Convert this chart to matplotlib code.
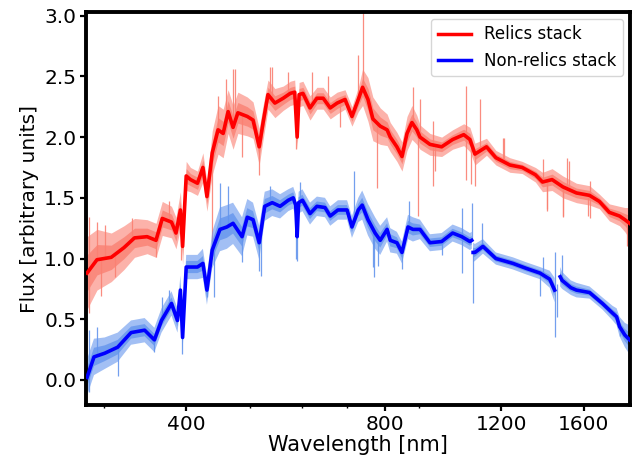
import numpy as np
import matplotlib
matplotlib.use("Agg")
import matplotlib.pyplot as plt
from matplotlib.ticker import ScalarFormatter, NullFormatter

# relics stack: wavelength [nm], smoothed flux, half-width of the noisy spectrum
red_wl = [283, 293, 308, 322, 334, 349, 360, 368, 380, 386,
          392, 395, 400, 406, 416, 424, 430, 438, 447, 455,
          463, 471, 479, 495, 505, 516, 523, 532, 545, 561,
          575, 584, 589, 593, 601, 616, 631, 645, 661, 677,
          696, 713, 729, 740, 754, 767, 787, 806, 815, 834,
          849, 864, 879, 894, 904, 936, 975, 1013, 1053, 1076,
          1095, 1140, 1178, 1237, 1291, 1352, 1386, 1433, 1488, 1560,
          1633, 1690, 1750, 1813, 1847, 1878]
red_flux = [0.88, 0.99, 1.01, 1.09, 1.17, 1.18, 1.15, 1.33, 1.30, 1.21,
            1.40, 1.10, 1.68, 1.65, 1.62, 1.75, 1.51, 1.87, 2.06, 2.03,
            2.21, 2.08, 2.20, 2.17, 2.14, 1.92, 2.12, 2.35, 2.28, 2.32,
            2.36, 2.37, 2.00, 2.35, 2.36, 2.24, 2.32, 2.32, 2.24, 2.28,
            2.31, 2.17, 2.31, 2.41, 2.31, 2.15, 2.09, 2.06, 2.00, 1.92,
            1.84, 2.03, 2.12, 2.06, 2.00, 1.94, 1.92, 1.98, 2.02, 1.98,
            1.86, 1.92, 1.83, 1.77, 1.75, 1.69, 1.63, 1.65, 1.59, 1.54,
            1.52, 1.47, 1.38, 1.35, 1.32, 1.29]
red_spread = [0.30, 0.25, 0.20, 0.18, 0.16, 0.14, 0.14, 0.14, 0.13, 0.13,
              0.15, 0.15, 0.12, 0.10, 0.10, 0.12, 0.12, 0.18, 0.20, 0.20,
              0.18, 0.18, 0.17, 0.16, 0.15, 0.15, 0.14, 0.12, 0.12, 0.10,
              0.10, 0.10, 0.10, 0.10, 0.10, 0.10, 0.09, 0.09, 0.09, 0.09,
              0.08, 0.08, 0.10, 0.15, 0.18, 0.18, 0.15, 0.13, 0.12, 0.12,
              0.12, 0.14, 0.14, 0.12, 0.10, 0.09, 0.08, 0.08, 0.09, 0.10,
              0.09, 0.07, 0.06, 0.06, 0.05, 0.06, 0.08, 0.09, 0.09, 0.08,
              0.08, 0.06, 0.07, 0.08, 0.10, 0.13]
red_spike_wl = [285, 293, 301, 331, 377, 285, 297, 312, 360, 393,
                438, 447, 460, 471, 474, 486, 516, 536, 540, 571,
                587, 620, 655, 683, 729, 740, 778, 849, 882, 897,
                904, 946, 946, 953, 1060, 1060, 1080, 1095, 1114, 1207,
                1211, 1390, 1407, 1407, 1488, 1488, 1510, 1518, 1624, 1633,
                1633, 1860, 1873, 1873]
red_spike_flux = [1.34, 1.30, 1.28, 1.33, 1.47, 0.55, 0.69, 0.85, 1.01, 0.99,
                  1.00, 2.34, 2.48, 2.56, 2.56, 1.84, 1.69, 2.58, 2.58, 2.54,
                  1.90, 2.54, 2.50, 2.08, 2.68, 3.03, 1.58, 1.80, 2.41, 1.35,
                  2.31, 2.13, 1.60, 1.72, 2.42, 1.65, 1.61, 1.60, 2.31, 1.99,
                  1.99, 1.82, 1.39, 1.41, 1.34, 1.35, 1.83, 1.80, 1.35, 1.64,
                  1.33, 1.10, 1.08, 1.84]

# non-relics stack (nan = gap in the spectrum)
blue_wl = [283, 290, 301, 315, 330, 346, 358, 367, 380, 388,
           392, 395, 400, 408, 416, 424, 430, 438, 450, 461,
           471, 486, 495, 505, 516, 526, 540, 555, 571, 581,
           586, 589, 592, 600, 616, 631, 649, 661, 679, 701,
           713, 729, 739, 754, 773, 787, 806, 815, 834, 849,
           867, 882, 904, 936, 975, 1013, 1046, 1076, 1083, 1085,
           1088, 1095, 1126, 1178, 1250, 1308, 1374, 1421, 1446, 1460,
           1474, 1484, 1530, 1560, 1633, 1708, 1770, 1795, 1813, 1847,
           1878]
blue_flux = [0.02, 0.19, 0.22, 0.27, 0.39, 0.41, 0.33, 0.49, 0.63, 0.49,
             0.74, 0.35, 0.93, 0.93, 0.93, 0.96, 0.74, 1.07, 1.24, 1.26,
             1.29, 1.18, 1.34, 1.32, 1.13, 1.43, 1.46, 1.43, 1.48, 1.50,
             1.44, 1.18, 1.46, 1.48, 1.37, 1.43, 1.42, 1.35, 1.40, 1.40,
             1.26, 1.40, 1.44, 1.32, 1.21, 1.15, 1.24, 1.15, 1.13, 1.05,
             1.26, 1.24, 1.24, 1.13, 1.14, 1.21, 1.18, 1.14, 1.15, np.nan,
             1.05, 1.05, 1.10, 1.00, 0.96, 0.92, 0.88, 0.83, 0.74, np.nan,
             0.85, 0.82, 0.76, 0.74, 0.72, 0.63, 0.55, 0.52, 0.44, 0.37,
             0.33]
blue_spread = [0.15, 0.15, 0.13, 0.12, 0.10, 0.10, 0.10, 0.10, 0.10, 0.10,
               0.12, 0.12, 0.10, 0.10, 0.10, 0.12, 0.12, 0.15, 0.18, 0.18,
               0.17, 0.16, 0.15, 0.14, 0.14, 0.12, 0.11, 0.10, 0.09, 0.09,
               0.09, 0.09, 0.09, 0.09, 0.09, 0.08, 0.08, 0.08, 0.08, 0.08,
               0.09, 0.10, 0.12, 0.13, 0.13, 0.12, 0.10, 0.10, 0.09, 0.09,
               0.10, 0.10, 0.08, 0.07, 0.07, 0.07, 0.07, 0.07, 0.07, np.nan,
               0.08, 0.07, 0.06, 0.05, 0.05, 0.05, 0.05, 0.07, 0.10, np.nan,
               0.08, 0.07, 0.06, 0.06, 0.05, 0.05, 0.06, 0.07, 0.08, 0.10,
               0.12]
blue_spike_wl = [285, 293, 367, 377, 285, 315, 358, 394, 430, 441,
                 450, 463, 486, 516, 519, 536, 587, 589, 595, 719,
                 767, 770, 780, 849, 870, 975, 1046, 1046, 1083, 1087,
                 1122, 1374, 1390, 1446, 1446, 1459, 1484, 1813, 1876]
blue_spike_flux = [0.41, 0.44, 0.68, 0.74, -0.10, 0.03, 0.23, 0.21, 0.68, 0.68,
                   1.62, 1.60, 0.97, 0.90, 0.86, 1.60, 1.00, 0.98, 1.63, 1.72,
                   0.93, 0.85, 0.94, 0.91, 1.47, 1.03, 1.42, 0.88, 1.46, 0.63,
                   1.29, 0.69, 1.01, 1.05, 0.35, 0.52, 1.03, 0.36, -0.19]

xticks = [400, 800, 1200, 1600]


def draw_stack(ax, wl, flux, spread, spike_wl, spike_flux, dark, light, label):
    wl = np.array(wl, dtype=float)
    flux = np.array(flux, dtype=float)
    spread = np.array(spread, dtype=float)
    # noisy spectrum: faint outer envelope, denser core
    ax.fill_between(wl, flux - spread, flux + spread, color=light,
                    lw=0, alpha=0.6, zorder=1)
    ax.fill_between(wl, flux - 0.5 * spread, flux + 0.5 * spread, color=light,
                    lw=0, alpha=0.8, zorder=1)
    ok = ~np.isnan(flux)
    base = np.interp(spike_wl, wl[ok], flux[ok])
    ax.vlines(spike_wl, base, spike_flux, color=light, lw=0.9, alpha=0.9, zorder=1)
    ax.plot(wl, flux, color=dark, lw=2.6, label=label, zorder=3)


fig = plt.figure(figsize=(6.35, 4.62), dpi=100)
ax = fig.add_axes([0.1354, 0.1234, 0.8566, 0.8506])

draw_stack(ax, red_wl, red_flux, red_spread, red_spike_wl, red_spike_flux,
           'red', 'salmon', 'Relics stack')
draw_stack(ax, blue_wl, blue_flux, blue_spread, blue_spike_wl, blue_spike_flux,
           'blue', 'cornflowerblue', 'Non-relics stack')

ax.set_xscale('log')
ax.set_xlim(282, 1880)
ax.set_ylim(-0.206, 3.03)
ax.set_xticks(xticks)
ax.xaxis.set_major_formatter(ScalarFormatter())
ax.xaxis.set_minor_formatter(NullFormatter())
ax.set_yticks([0.0, 0.5, 1.0, 1.5, 2.0, 2.5, 3.0])
ax.set_yticklabels(['0.0', '0.5', '1.0', '1.5', '2.0', '2.5', '3.0'])

for s in ax.spines.values():
    s.set_linewidth(2.8)
ax.tick_params(which='major', length=4, width=1.6, labelsize=14.5, pad=3)
ax.tick_params(which='minor', length=2.5, width=1.0)

ax.set_xlabel('Wavelength [nm]', fontsize=15, labelpad=1)
ax.set_ylabel('Flux [arbitrary units]', fontsize=14.5, labelpad=4)

leg = ax.legend(loc='upper right', fontsize=12, handlelength=2.0,
                borderaxespad=0.4)
for line in leg.get_lines():
    line.set_linewidth(2.5)

fig.savefig('out.png', dpi=100)
